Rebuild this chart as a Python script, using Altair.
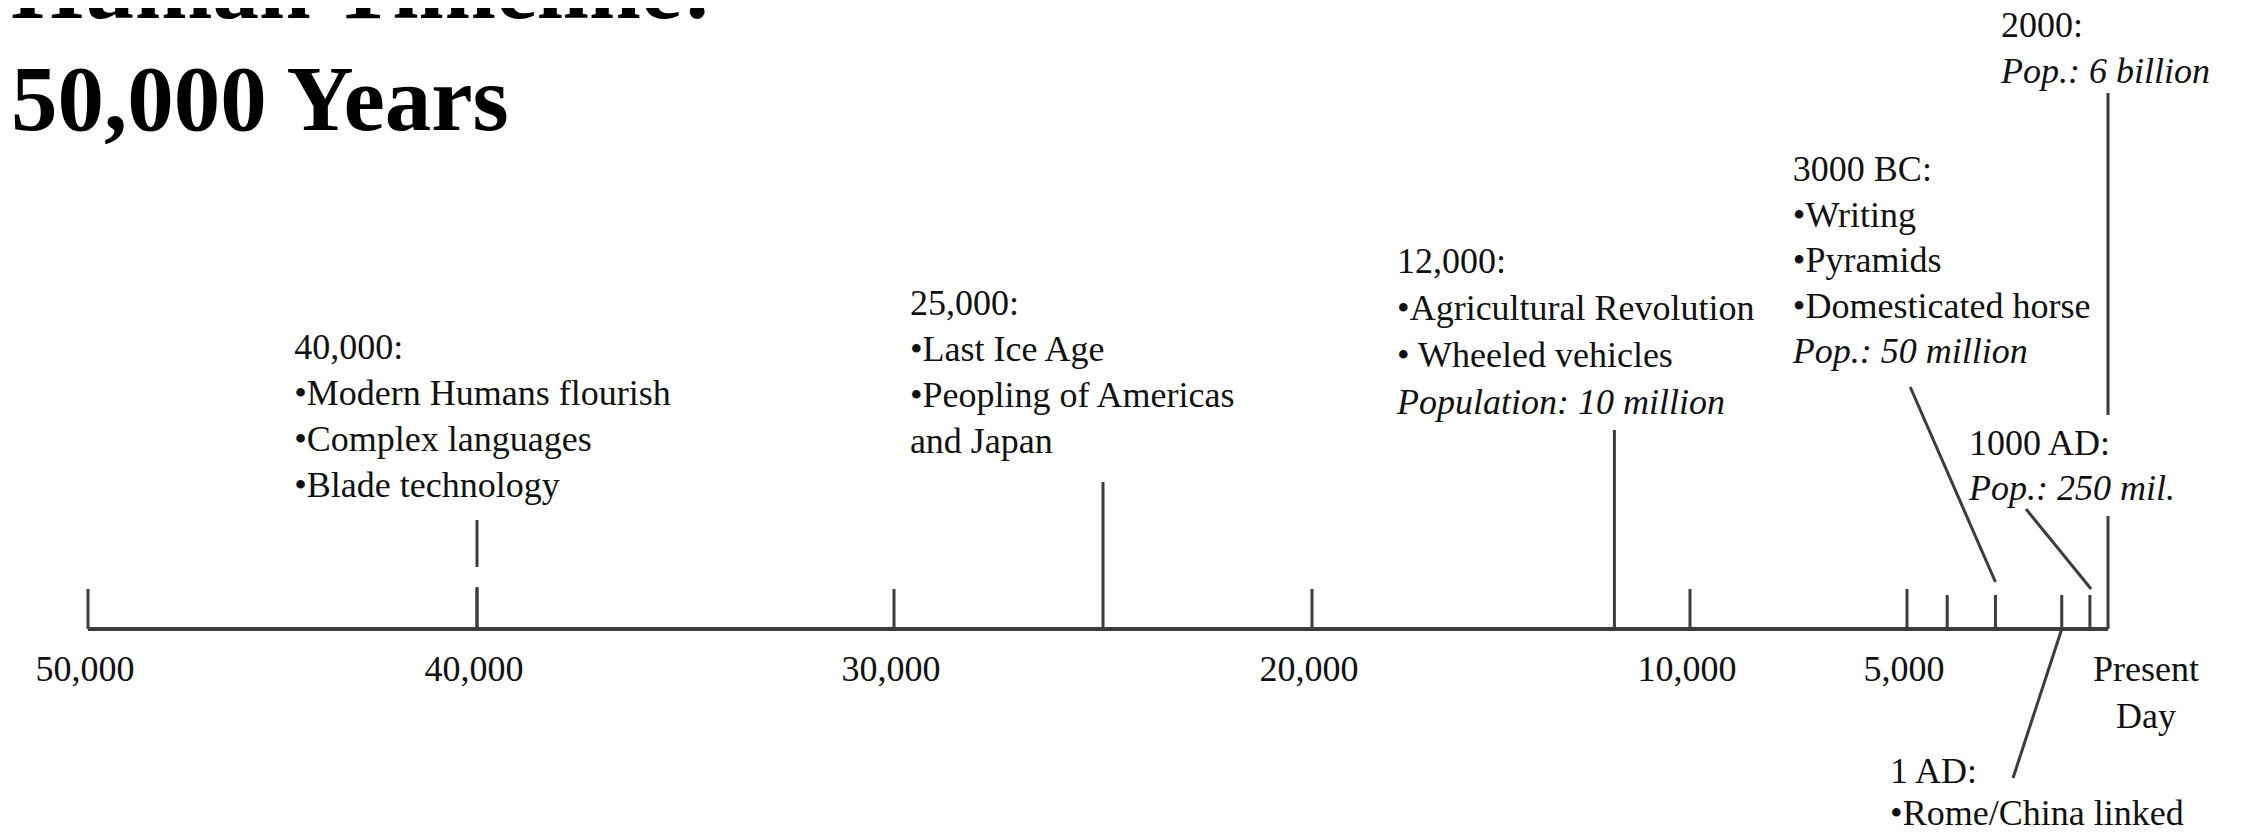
import altair as alt
import pandas as pd

# ---------------- data ----------------
# Axis: years before present
major_ticks = [50000, 40000, 30000, 20000, 10000, 5000]
major_labels = ["50,000", "40,000", "30,000", "20,000", "10,000", "5,000"]
minor_ticks = [4000, 2800, 1150, 450]
present_label = "Present\nDay"

# Event annotation blocks
block_names = ["40,000", "25,000", "12,000", "3000 BC", "1000 AD", "2000", "1 AD"]
block_lines = [
    ["40,000:", "\u2022Modern Humans flourish", "\u2022Complex languages", "\u2022Blade technology"],
    ["25,000:", "\u2022Last Ice Age", "\u2022Peopling of Americas", "and Japan"],
    ["12,000:", "\u2022Agricultural Revolution", "\u2022 Wheeled vehicles", "Population: 10 million"],
    ["3000 BC:", "\u2022Writing", "\u2022Pyramids", "\u2022Domesticated horse", "Pop.: 50 million"],
    ["1000 AD:", "Pop.: 250 mil."],
    ["2000:", "Pop.: 6 billion"],
    ["1 AD:", "\u2022Rome/China linked"],
]

# Marker / connector segments (years before present)
seg_x1 = [40000, 40000, 25000, 12000, 0, 0, 4920, 2040, 1150]
seg_x2 = [40000, 40000, 25000, 12000, 0, 0, 2800, 420, 2363]

# ---------------- layout ----------------
block_x = [44700, 29620, 17750, 7630, 3460, 2660, 5390]      # left edge of block
block_top = [270, 314, 356, 448, 174, 592, -154]             # first baseline above axis
block_step = [46, 46, 47, 45.5, 45, 46, 42]
seg_h1 = [109, 42, 147, 199, 536, 113, 242, 120, 0]
seg_h2 = [62, 0, 0, 0, 214, 0, 47, 40, -149]
major_len = 40
minor_len = 34
label_h = -52

FONT = "Liberation Serif"
LINE = "#3c3c3c"
TEXT = "#111111"

xs = alt.Scale(domain=[0, 5000, 10000, 20000, 30000, 40000, 50000],
               range=[2100, 1899, 1682, 1304, 886, 469, 80], nice=False, zero=False)
ys = alt.Scale(domain=[0, 621], range=[621, 0], nice=False, zero=False)

rows = []
for name, lines, bx, top, step in zip(block_names, block_lines, block_x, block_top, block_step):
    for i, line in enumerate(lines):
        rows.append({"event": name, "text": line, "x": bx, "h": top - i * step,
                     "italic": line.startswith("Pop")})
lab = pd.DataFrame(rows)
lab_norm = lab[~lab["italic"]]
lab_ital = lab[lab["italic"]]

ticks = pd.DataFrame({
    "v": major_ticks + minor_ticks,
    "h0": [0] * (len(major_ticks) + len(minor_ticks)),
    "h": [major_len] * len(major_ticks) + [minor_len] * len(minor_ticks),
})
tick_lab = pd.DataFrame({"v": major_ticks, "label": major_labels, "h": [label_h] * len(major_ticks)})
present_df = pd.DataFrame({"v": [0], "label": [present_label], "h": [label_h]})
axis_df = pd.DataFrame({"a": [50000], "b": [0], "h": [0]})
segs = pd.DataFrame({"x1": seg_x1, "x2": seg_x2, "h1": seg_h1, "h2": seg_h2})
title_df = pd.DataFrame({"t": ["Human Timeline:\n50,000 Years"]})

axis_line = alt.Chart(axis_df).mark_rule(color=LINE, strokeWidth=4).encode(
    x=alt.X("a:Q", scale=xs, axis=None), x2="b:Q",
    y=alt.Y("h:Q", scale=ys, axis=None))

tick_marks = alt.Chart(ticks).mark_rule(color=LINE, strokeWidth=3).encode(
    x=alt.X("v:Q", scale=xs, axis=None),
    y=alt.Y("h0:Q", scale=ys, axis=None), y2="h:Q")

seg_marks = alt.Chart(segs).mark_rule(color=LINE, strokeWidth=3).encode(
    x=alt.X("x1:Q", scale=xs, axis=None), x2="x2:Q",
    y=alt.Y("h1:Q", scale=ys, axis=None), y2="h2:Q")

tick_text = alt.Chart(tick_lab).mark_text(
    font=FONT, fontSize=36, color=TEXT, align="center", baseline="alphabetic", dx=-3).encode(
    x=alt.X("v:Q", scale=xs, axis=None), y=alt.Y("h:Q", scale=ys, axis=None), text="label:N")

present_text = alt.Chart(present_df).mark_text(
    font=FONT, fontSize=36, color=TEXT, align="center", baseline="alphabetic", dx=38,
    lineBreak="\n", lineHeight=47).encode(
    x=alt.X("v:Q", scale=xs, axis=None), y=alt.Y("h:Q", scale=ys, axis=None), text="label:N")

norm_text = alt.Chart(lab_norm).mark_text(
    font=FONT, fontSize=36, color=TEXT, align="left", baseline="alphabetic").encode(
    x=alt.X("x:Q", scale=xs, axis=None), y=alt.Y("h:Q", scale=ys, axis=None), text="text:N")

ital_text = alt.Chart(lab_ital).mark_text(
    font=FONT, fontSize=36, fontStyle="italic", color=TEXT, align="left", baseline="alphabetic").encode(
    x=alt.X("x:Q", scale=xs, axis=None), y=alt.Y("h:Q", scale=ys, axis=None), text="text:N")

title = alt.Chart(title_df).mark_text(
    font=FONT, fontSize=93, fontWeight="bold", color="#000000", align="left",
    baseline="alphabetic", lineBreak="\n", lineHeight=112).encode(
    x=alt.value(3), y=alt.value(10), text="t:N")

chart = alt.layer(axis_line, tick_marks, seg_marks, tick_text, present_text,
                  norm_text, ital_text, title).properties(
    width=2230, height=818, padding=0,
    autosize=alt.AutoSizeParams(type="none"),
    background="white",
).configure_view(stroke=None)

chart.save("out.html", embed_options={"renderer": "svg", "actions": False})
